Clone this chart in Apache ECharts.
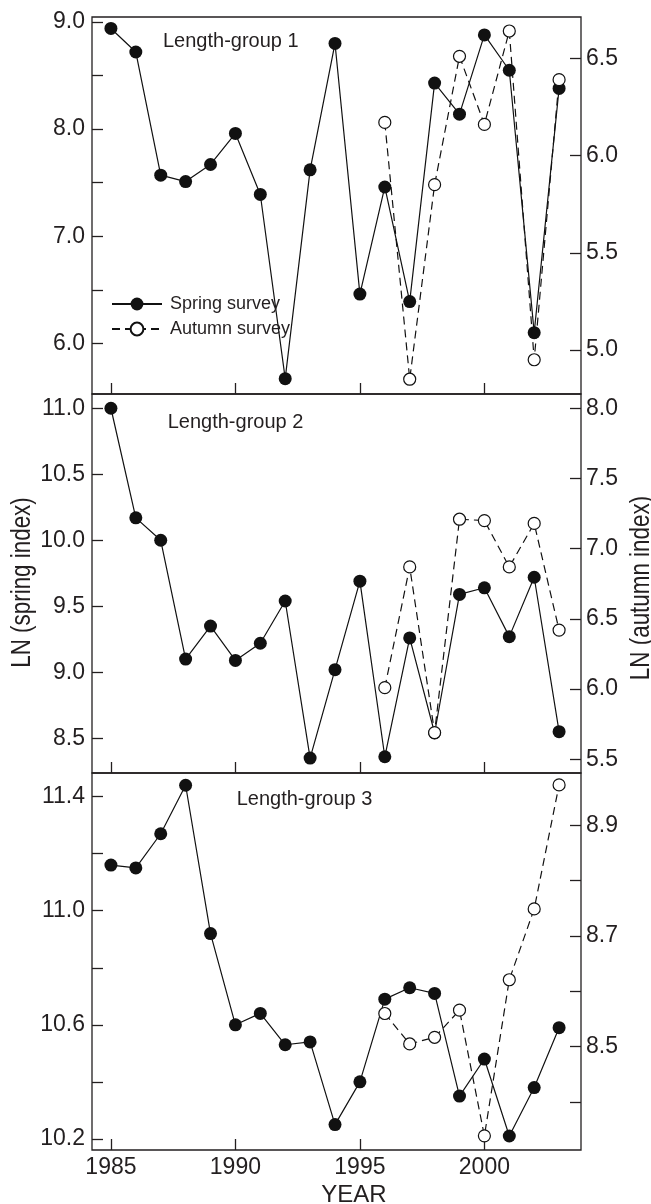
<!DOCTYPE html>
<html>
<head>
<meta charset="utf-8">
<script src="https://cdn.jsdelivr.net/npm/echarts@6/dist/echarts.min.js"></script>
<style>
html,body{margin:0;padding:0;background:#fff;}
#chart{width:651px;height:1204px;}
</style>
</head>
<body>
<div id="chart"></div>
<script>
// ---- data ----
const years = [1985,1986,1987,1988,1989,1990,1991,1992,1993,1994,1995,1996,1997,1998,1999,2000,2001,2002,2003];
const autumnYears = [1996,1997,1998,1999,2000,2001,2002,2003];

const spring1 = [8.94,8.72,7.57,7.51,7.67,7.96,7.39,5.67,7.62,8.80,6.46,7.46,6.39,8.43,8.14,8.88,8.55,6.10,8.38];
const autumn1 = [6.17,4.85,5.85,6.51,6.16,6.64,4.95,6.39];

const spring2 = [11.00,10.17,10.00,9.10,9.35,9.09,9.22,9.54,8.35,9.02,9.69,8.36,9.26,8.54,9.59,9.64,9.27,9.72,8.55];
const autumn2 = [6.01,6.87,5.69,7.21,7.20,6.87,7.18,6.42];

const spring3 = [11.16,11.15,11.27,11.44,10.92,10.60,10.64,10.53,10.54,10.25,10.40,10.69,10.73,10.71,10.35,10.48,10.21,10.38,10.59];
const autumn3 = [8.56,8.505,8.517,8.566,8.339,8.621,8.749,8.973];

const xTicks = [1985,1990,1995,2000];
const p1LeftTicks = [6.0,6.5,7.0,7.5,8.0,8.5,9.0];
const p1LeftLabels = [6.0,7.0,8.0,9.0];
const p1RightTicks = [5.0,5.5,6.0,6.5];
const p2LeftTicks = [8.5,9.0,9.5,10.0,10.5,11.0];
const p2RightTicks = [5.5,6.0,6.5,7.0,7.5,8.0];
const p3LeftTicks = [10.2,10.4,10.6,10.8,11.0,11.2,11.4];
const p3LeftLabels = [10.2,10.6,11.0,11.4];
const p3RightTicks = [8.4,8.5,8.6,8.7,8.8,8.9];
const p3RightLabels = [8.5,8.7,8.9];

const panelTitles = ['Length-group 1','Length-group 2','Length-group 3'];
const seriesNames = ['Spring survey','Autumn survey'];

// ---- style ----
const INK = '#231f20';
const FONT = "'Liberation Sans', Arial, Helvetica, sans-serif";

const chart = echarts.init(document.getElementById('chart'), null, {renderer:'canvas'});

const grids = [
  {left:92, right:70, top:17, height:377},
  {left:92, right:70, top:394, height:379},
  {left:92, right:70, top:773, height:377}
].map(g => Object.assign(g, {show:true, borderColor:INK, borderWidth:1.3, backgroundColor:'transparent', containLabel:false}));

function xAx(i, showLabels){
  return {
    type:'value', gridIndex:i, min:1984.24, max:2003.88,
    axisLine:{show:false},
    splitLine:{show:false},
    axisTick:{show:true, inside:true, length:11, customValues:xTicks, lineStyle:{color:INK, width:1.3}},
    axisLabel:{show:showLabels, customValues:xTicks, margin:6, color:INK, fontSize:23, fontFamily:FONT,
      formatter: v => String(Math.round(v))}
  };
}
function yAx(i, pos, min, max, ticks, labels){
  return {
    type:'value', gridIndex:i, position:pos, min:min, max:max,
    axisLine:{show:false},
    splitLine:{show:false},
    axisTick:{show:true, inside:true, length:11, customValues:ticks, lineStyle:{color:INK, width:1.3}},
    axisLabel:{show:true, customValues:labels, margin: pos==='left'?7:5, color:INK, fontSize:23, fontFamily:FONT,
      formatter: v => Number(v).toFixed(1)}
  };
}

const xAxes = [xAx(0,false), xAx(1,false), xAx(2,true)];
const yAxes = [
  yAx(0,'left',5.527,9.047,p1LeftTicks,p1LeftLabels),
  yAx(0,'right',4.774,6.712,p1RightTicks,p1RightTicks),
  yAx(1,'left',8.237,11.108,p2LeftTicks,p2LeftTicks),
  yAx(1,'right',5.402,8.102,p2RightTicks,p2RightTicks),
  yAx(2,'left',10.161,11.483,p3LeftTicks,p3LeftLabels),
  yAx(2,'right',8.3134,8.9945,p3RightTicks,p3RightLabels)
];

const springData = [spring1, spring2, spring3];
const autumnData = [autumn1, autumn2, autumn3];

const series = [];
for (let i=0;i<3;i++){
  series.push({
    name:seriesNames[0], type:'line', xAxisIndex:i, yAxisIndex:2*i,
    data: years.map((y,k)=>[y, springData[i][k]]),
    symbol:'circle', symbolSize:13,
    itemStyle:{color:'#111'},
    lineStyle:{color:'#111', width:1.2},
    z:2
  });
  series.push({
    name:seriesNames[1], type:'line', xAxisIndex:i, yAxisIndex:2*i+1,
    data: autumnYears.map((y,k)=>[y, autumnData[i][k]]),
    symbol:'circle', symbolSize:12,
    itemStyle:{color:'#fff', borderColor:'#111', borderWidth:1.2},
    lineStyle:{color:'#111', width:1.2, type:[8,5]},
    z:3
  });
}

function label(text, x, baseline, size){
  return {type:'text', x:x, y:baseline - 0.36*size, silent:true,
    style:{text:text, fill:INK, font: size+'px '+FONT, textAlign:'left', textVerticalAlign:'middle'}};
}

const option = {
  animation:false,
  backgroundColor:'#fff',
  grid: grids,
  xAxis: xAxes,
  yAxis: yAxes,
  legend:{
    show:true, orient:'vertical', left:106, top:290,
    data:seriesNames,
    itemWidth:50, itemHeight:16, itemGap:7,
    textStyle:{color:INK, fontSize:18, fontFamily:FONT, padding:[0,0,0,3]},
    inactiveColor:'#ccc'
  },
  graphic:[
    label(panelTitles[0],163,48.3,20),
    label(panelTitles[1],167.7,429.3,20),
    label(panelTitles[2],236.7,806.7,20),
    {type:'text', x:354, y:1195.3, silent:true,
      style:{text:'YEAR', fill:INK, font:'24px '+FONT, textAlign:'center', textVerticalAlign:'middle'}},
    {type:'text', x:22, y:582.5, rotation:Math.PI/2, scaleX:0.8, scaleY:1, silent:true,
      style:{text:'LN (spring index)', fill:INK, font:'28px '+FONT, textAlign:'center', textVerticalAlign:'middle'}},
    {type:'text', x:641.5, y:588, rotation:Math.PI/2, scaleX:0.8, scaleY:1, silent:true,
      style:{text:'LN (autumn index)', fill:INK, font:'28px '+FONT, textAlign:'center', textVerticalAlign:'middle'}}
  ],
  series: series
};
chart.setOption(option);
</script>
</body>
</html>
